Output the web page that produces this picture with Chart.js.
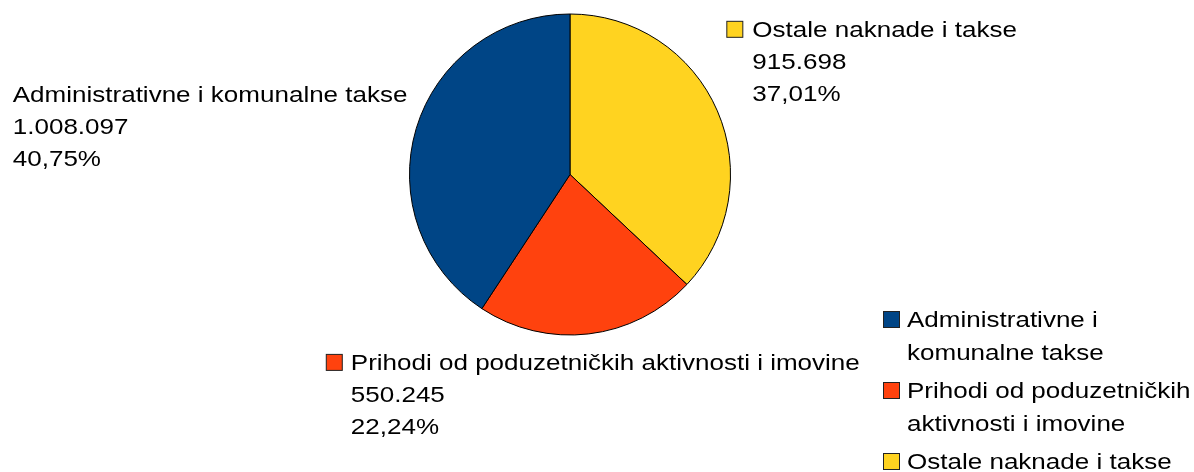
<!DOCTYPE html>
<html>
<head>
<meta charset="utf-8">
<script src="https://cdn.jsdelivr.net/npm/chart.js@4.4.1/dist/chart.umd.min.js"></script>
<style>
  html, body { margin: 0; padding: 0; background: #fff; }
  #wrap { width: 1194px; height: 472px; }
</style>
</head>
<body>
<div id="wrap"><canvas id="pieChart" width="1194" height="472"></canvas></div>
<script>
const categories = [
  "Administrativne i komunalne takse",
  "Prihodi od poduzetničkih aktivnosti i imovine",
  "Ostale naknade i takse",
];
const amounts = [1008097, 550245, 915698];
const sliceColors = ["#004586", "#ff420e", "#ffd320"];

const FONT = '21.5px "Liberation Sans", Arial, sans-serif';
const STRETCH = 1.21;
const LINE_H = 32;
const CAP_H = 15;

const total = amounts.reduce((a, b) => a + b, 0);

function formatAmount(v) {
  return String(v).replace(/\B(?=(\d{3})+(?!\d))/g, ".");
}

function formatPercent(v) {
  return ((v / total) * 100).toFixed(2).replace(".", ",") + "%";
}

function textWidth(ctx, s) {
  return ctx.measureText(s).width * STRETCH;
}

function drawText(ctx, s, x, y) {
  ctx.save();
  ctx.translate(x, y);
  ctx.scale(STRETCH, 1);
  ctx.fillText(s, 0, 0);
  ctx.restore();
}

function drawSwatch(ctx, x, top, color) {
  ctx.save();
  ctx.fillStyle = color;
  ctx.fillRect(x + 0.5, top + 0.5, 16, 16);
  ctx.strokeStyle = "#222";
  ctx.lineWidth = 1;
  ctx.strokeRect(x + 0.5, top + 0.5, 16, 16);
  ctx.restore();
}

// labels next to each slice: name, amount, share
const sliceLabels = {
  id: "sliceLabels",
  afterDatasetsDraw(chart) {
    const ctx = chart.ctx;
    const meta = chart.getDatasetMeta(0);
    const ds = chart.data.datasets[0];
    ctx.save();
    ctx.font = FONT;
    ctx.textAlign = "left";
    ctx.textBaseline = "alphabetic";
    ctx.fillStyle = "#000";

    meta.data.forEach((arc, i) => {
      const p = arc.getProps(["x", "y", "startAngle", "endAngle", "outerRadius"], true);
      const mid = (p.startAngle + p.endAngle) / 2;
      const dx = Math.cos(mid);
      const dy = Math.sin(mid);
      const ax = p.x + dx * p.outerRadius;
      const ay = p.y + dy * p.outerRadius;
      const lines = [chart.data.labels[i], formatAmount(ds.data[i]), formatPercent(ds.data[i])];
      const w = Math.max(...lines.map((s) => textWidth(ctx, s)));

      let textX, base, swatchX = null;
      if (dy > 0.8) {
        const left = ax + 4 - (25 + w) / 2;
        swatchX = left;
        textX = left + 25;
        base = ay + 36;
      } else if (dx > 0) {
        swatchX = ax + 9;
        textX = swatchX + 26;
        base = ay - 10 - 2 * LINE_H;
      } else {
        textX = p.x - p.outerRadius - 2 - w;
        base = ay - (CAP_H + 2 * LINE_H) / 2 + CAP_H - 2;
      }

      if (swatchX !== null) drawSwatch(ctx, swatchX, base - 16, ds.backgroundColor[i]);
      lines.forEach((s, k) => drawText(ctx, s, textX, base + k * LINE_H));
    });
    ctx.restore();
  },
};

// legend at bottom right, wrapped like the original
const sideLegend = {
  id: "sideLegend",
  afterDraw(chart, args, opts) {
    const ctx = chart.ctx;
    ctx.save();
    ctx.font = FONT;
    ctx.textAlign = "left";
    ctx.textBaseline = "alphabetic";
    ctx.fillStyle = "#000";

    const textX = opts.left + 24;
    const maxW = chart.width - textX + 2;
    let base = opts.top;

    categories.forEach((name, i) => {
      const words = name.split(" ");
      const rows = [];
      let cur = "";
      words.forEach((word) => {
        const test = cur ? cur + " " + word : word;
        if (cur && textWidth(ctx, test) > maxW) {
          rows.push(cur);
          cur = word;
        } else {
          cur = test;
        }
      });
      rows.push(cur);

      drawSwatch(ctx, opts.left, base - 16, sliceColors[i]);
      rows.forEach((row, k) => drawText(ctx, row, textX, base + k * 33));
      base += (rows.length - 1) * 33 + 38;
    });
    ctx.restore();
  },
};

// the original runs counter-clockwise, so feed the slices in reverse
const pieLabels = categories.slice().reverse();
const pieValues = amounts.slice().reverse();
const pieColors = sliceColors.slice().reverse();

new Chart(document.getElementById("pieChart"), {
  type: "pie",
  data: {
    labels: pieLabels,
    datasets: [
      {
        data: pieValues,
        backgroundColor: pieColors,
        borderColor: "#000",
        borderWidth: 1,
      },
    ],
  },
  options: {
    responsive: false,
    animation: false,
    devicePixelRatio: 1,
    layout: {
      padding: { left: 409, right: 463, top: 13.5, bottom: 136.5 },
    },
    plugins: {
      legend: { display: false },
      tooltip: { enabled: false },
      sideLegend: { left: 883, top: 327 },
    },
  },
  plugins: [sliceLabels, sideLegend],
});
</script>
</body>
</html>
